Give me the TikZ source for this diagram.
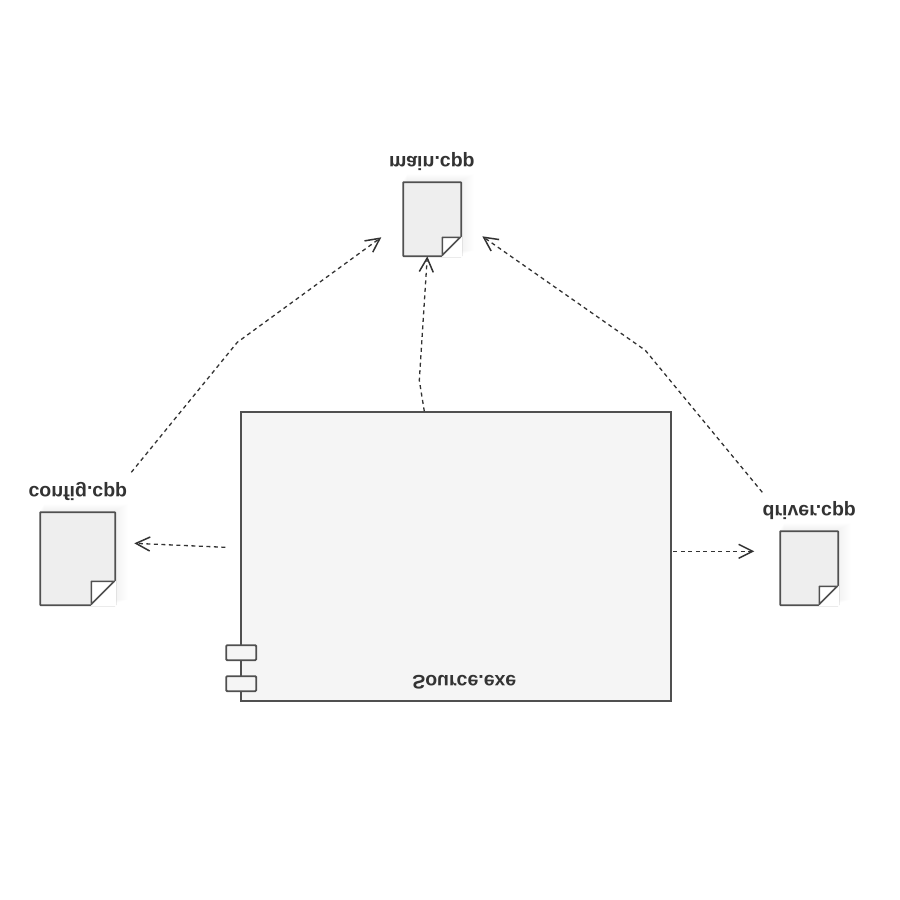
\documentclass[tikz,border=0pt]{standalone}
\usepackage{fontspec}
\setmainfont{Liberation Sans}
\usetikzlibrary{arrows.meta}
\definecolor{edge}{HTML}{505050}
\definecolor{docfill}{HTML}{EEEEEE}
\definecolor{boxfill}{HTML}{F5F5F5}
\tikzset{
  x=1pt,y=-1pt,
  docbody/.style={draw=edge,fill=docfill,line width=1.8pt,rounded corners=0.6pt,inner sep=0pt,anchor=north west},
  compbox/.style={draw=edge,fill=boxfill,line width=1.8pt,inner sep=0pt,anchor=north west},
  tabbox/.style={draw=edge,fill=boxfill,line width=1.8pt,rounded corners=1pt,inner sep=0pt,minimum width=30pt,minimum height=15pt,anchor=north west},
  foldcut/.style={fill=white,draw=none},
  foldmark/.style={draw=edge,fill=white,line width=1.6pt,line join=round},
  flipped/.style={yscale=-1,transform shape,font=\fontsize{19.5pt}{22pt}\selectfont\bfseries,text=black!80,inner sep=0pt},
  depends/.style={draw=black!80,line width=1.3pt,dash pattern=on 4pt off 3.5pt,-{Straight Barb[length=14pt,width=14pt,line width=1.5pt]}},
  softshadow/.style={fill=black,opacity=0.005,draw=none}
}
\newcommand{\softbox}[4]{%
  \foreach \g in {1,2,...,14}{\fill[softshadow] (#1+\g/3,#2-\g/2) rectangle (#3+\g,#4-\g/3);}%
}
\begin{document}
\begin{tikzpicture}[shift={(-0.7,-0.7)}]
\useasboundingbox (0.7,0.7) rectangle (900.7,900.7);
\fill[white] (0.7,0.7) rectangle (900.7,900.7);
\softbox{403}{182}{461}{256}
\softbox{40}{512}{115}{605}
\softbox{780}{531}{838}{605}
% component
\node[compbox,minimum width=430pt,minimum height=289pt] (source) at (241,412) {};
\node[tabbox] (tabA) at (226,645) {};
\node[tabbox] (tabB) at (226,676) {};
\node[flipped] (sourcelabel) at (465,683) {Source.exe};
% documents
\node[docbody,minimum width=58pt,minimum height=74pt] (main) at (403,182) {};
\fill[foldcut] (462.9,237) -- (462.9,257.9) -- (442,257.9) -- cycle;
\draw[foldmark] (461,238) -- (443,256) -- (443,238) -- cycle;
\node[flipped] (mainlabel) at (432.5,162.5) {main.cpp};
\node[docbody,minimum width=75pt,minimum height=93pt] (config) at (40,512) {};
\fill[foldcut] (116.9,581) -- (116.9,606.9) -- (91,606.9) -- cycle;
\draw[foldmark] (115,582) -- (92,605) -- (92,582) -- cycle;
\node[flipped] (configlabel) at (78.5,492.5) {config.cpp};
\node[docbody,minimum width=58pt,minimum height=74pt] (driver) at (780,531) {};
\fill[foldcut] (839.9,586) -- (839.9,606.9) -- (819,606.9) -- cycle;
\draw[foldmark] (838,587) -- (820,605) -- (820,587) -- cycle;
\node[flipped] (driverlabel) at (810,511.5) {driver.cpp};
% connector ends
\coordinate (s1) at (132,473); \coordinate (b1) at (238,343); \coordinate (e1) at (382,238);
\coordinate (s2) at (425,412); \coordinate (b2) at (420,381); \coordinate (e2) at (428,257);
\coordinate (s3) at (763,493); \coordinate (b3) at (646,351); \coordinate (e3) at (483,237);
\coordinate (s4) at (226,548); \coordinate (e4) at (135,544);
\coordinate (s5) at (674,552); \coordinate (e5) at (755,552);
\draw[depends] (s1) -- (b1) -- (e1);
\draw[depends] (s2) -- (b2) -- (e2);
\draw[depends] (s3) -- (b3) -- (e3);
\draw[depends] (s4) -- (e4);
\draw[depends] (s5) -- (e5);
\end{tikzpicture}
\end{document}
